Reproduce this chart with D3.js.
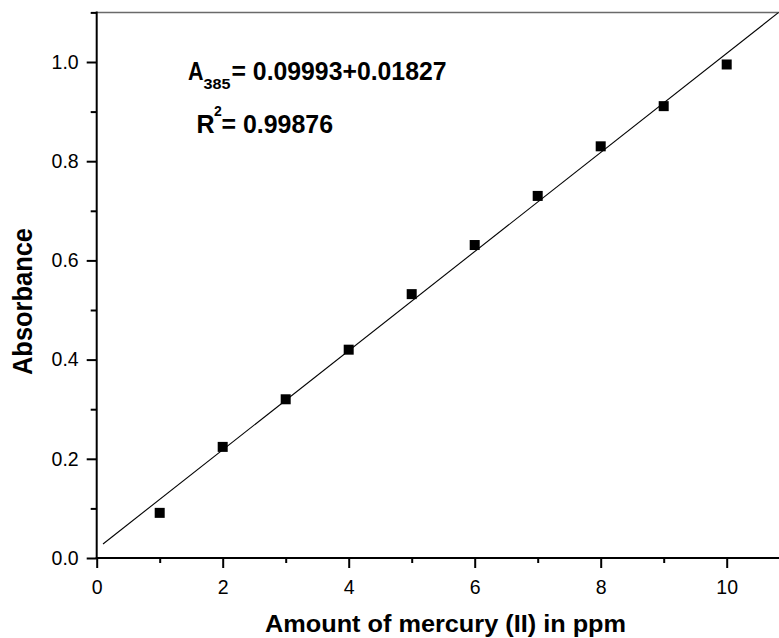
<!DOCTYPE html>
<html>
<head>
<meta charset="utf-8">
<script src="https://cdn.jsdelivr.net/npm/d3@7"></script>
<style>
  html, body { margin: 0; padding: 0; background: #fff; }
  svg { display: block; }
  text { font-family: "Liberation Sans", Arial, Helvetica, sans-serif; }
</style>
</head>
<body>
<svg id="chart" width="779" height="638"></svg>
<script>
// ---- data ----
const concentrations = [1, 2, 3, 4, 5, 6, 7, 8, 9, 10];
const absorbance = [0.091, 0.224, 0.320, 0.420, 0.532, 0.631, 0.730, 0.830, 0.911, 0.995];
const fitSlope = 0.09993;
const fitIntercept = 0.01827;
const fitRange = [0.1, 11];
const xMajorTicks = [0, 2, 4, 6, 8, 10];
const xMinorTicks = [1, 3, 5, 7, 9, 11];
const yMajorTicks = [0.0, 0.2, 0.4, 0.6, 0.8, 1.0];
const yMinorTicks = [0.1, 0.3, 0.5, 0.7, 0.9, 1.1];
const xTitle = "Amount of mercury (II) in ppm";
const yTitle = "Absorbance";

// ---- layout ----
const svg = d3.select("#chart");
const x0 = 96.7, yBase = 558, yTop = 12.4;
const x = d3.scaleLinear().domain([0, 11]).range([x0, x0 + 63 * 11]);
const y = d3.scaleLinear().domain([0, 1.1]).range([yBase, yTop]);

// clip for plot area
svg.append("defs").append("clipPath").attr("id", "plotclip")
  .append("rect").attr("x", x0).attr("y", yTop).attr("width", 779 - x0).attr("height", yBase - yTop);

// top border
svg.append("line")
  .attr("x1", x0).attr("x2", 779).attr("y1", yTop).attr("y2", yTop)
  .attr("stroke", "#6a6a6a").attr("stroke-width", 1.5);

// fit line
const fitPts = fitRange.map(v => [v, fitIntercept + fitSlope * v]);
svg.append("path")
  .attr("clip-path", "url(#plotclip)")
  .attr("d", d3.line().x(d => x(d[0])).y(d => y(d[1]))(fitPts))
  .attr("fill", "none").attr("stroke", "#000").attr("stroke-width", 1.1);

// markers
svg.append("g").selectAll("rect")
  .data(concentrations.map((c, i) => [c, absorbance[i]]))
  .join("rect")
  .attr("x", d => x(d[0]) - 5).attr("y", d => y(d[1]) - 5)
  .attr("width", 10).attr("height", 10).attr("fill", "#000");

// axes
function styleAxis(g) {
  g.select(".domain").remove();
  g.selectAll(".tick line").attr("stroke", "#000").attr("stroke-width", 2);
  g.selectAll(".tick text").attr("fill", "#000")
    .style("font-size", "19.5px").style("font-family", '"Liberation Sans", Arial, sans-serif');
}
const xAxisMajor = svg.append("g").attr("transform", `translate(0,${yBase})`)
  .call(d3.axisBottom(x).tickValues(xMajorTicks).tickSize(10).tickPadding(12).tickFormat(d3.format("d")));
styleAxis(xAxisMajor);
const xAxisMinor = svg.append("g").attr("transform", `translate(0,${yBase})`)
  .call(d3.axisBottom(x).tickValues(xMinorTicks).tickSize(5).tickFormat(""));
styleAxis(xAxisMinor);
const yAxisMajor = svg.append("g").attr("transform", `translate(${x0},0)`)
  .call(d3.axisLeft(y).tickValues(yMajorTicks).tickSize(10).tickPadding(8).tickFormat(d3.format(".1f")));
styleAxis(yAxisMajor);
const yAxisMinor = svg.append("g").attr("transform", `translate(${x0},0)`)
  .call(d3.axisLeft(y).tickValues(yMinorTicks).tickSize(6).tickFormat(""));
styleAxis(yAxisMinor);

// axis lines
svg.append("line").attr("x1", x0 - 1).attr("x2", 779).attr("y1", yBase).attr("y2", yBase)
  .attr("stroke", "#000").attr("stroke-width", 2);
svg.append("line").attr("x1", x0).attr("x2", x0).attr("y1", yTop - 1).attr("y2", yBase + 1)
  .attr("stroke", "#000").attr("stroke-width", 2);

// axis titles
svg.append("text").text(xTitle)
  .attr("x", 265).attr("y", 632)
  .attr("textLength", 361).attr("lengthAdjust", "spacingAndGlyphs")
  .style("font-size", "23px").style("font-weight", "bold");
svg.append("text").text(yTitle)
  .attr("transform", "translate(32,375) rotate(-90)")
  .attr("textLength", 147).attr("lengthAdjust", "spacingAndGlyphs")
  .style("font-size", "27px").style("font-weight", "bold");

// annotation
const ann = svg.append("g").style("font-weight", "bold");
ann.append("text").text("A").attr("x", 188).attr("y", 79.5).style("font-size", "25px")
  .attr("textLength", 15.5).attr("lengthAdjust", "spacingAndGlyphs");
ann.append("text").text("385").attr("x", 203.5).attr("y", 89).style("font-size", "14px")
  .attr("textLength", 27).attr("lengthAdjust", "spacingAndGlyphs");
ann.append("text").text("= 0.09993+0.01827").attr("x", 231.5).attr("y", 79.5).style("font-size", "25px")
  .attr("textLength", 215).attr("lengthAdjust", "spacingAndGlyphs");
ann.append("text").text("R").attr("x", 196.5).attr("y", 132.5).style("font-size", "25px");
ann.append("text").text("2").attr("x", 214).attr("y", 116).style("font-size", "14px");
ann.append("text").text("= 0.99876").attr("x", 221.5).attr("y", 132.5).style("font-size", "25px")
  .attr("textLength", 111.5).attr("lengthAdjust", "spacingAndGlyphs");
</script>
</body>
</html>
